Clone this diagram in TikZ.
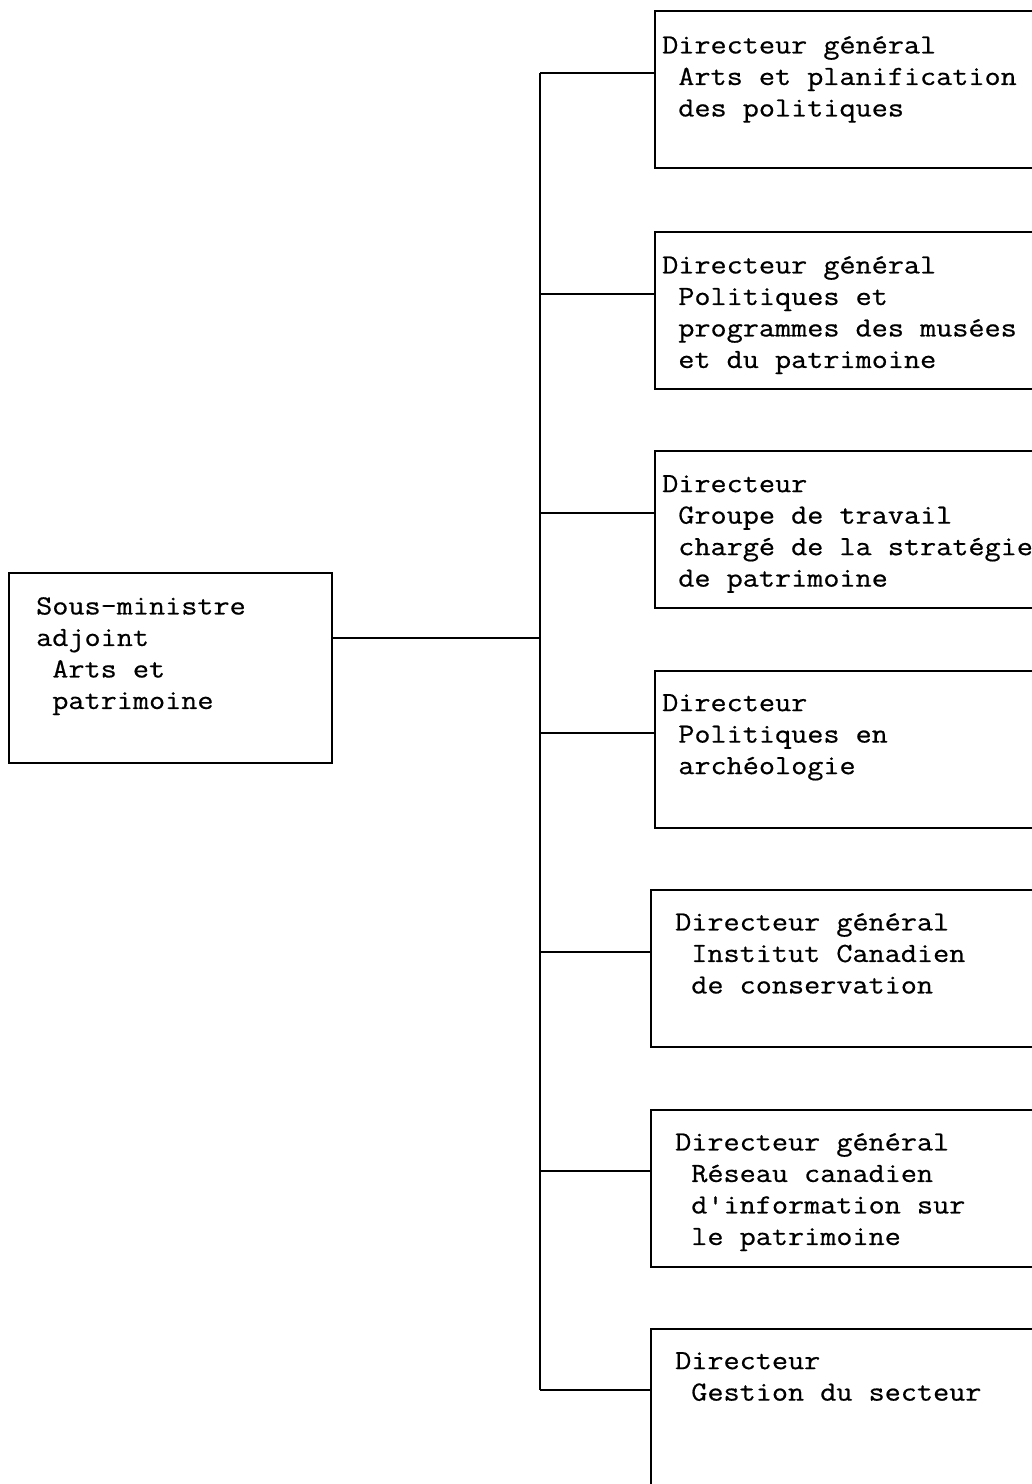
\documentclass[tikz,border=0pt]{standalone}
\usepackage{fontspec}
\newfontfamily\typew[Ligatures=TeXOff,FakeStretch=1.13,FakeBold=0.6]{Latin Modern Mono}
\usetikzlibrary{calc}
\newcommand\onechar{\hphantom{x}}
\tikzset{
  frame/.style={draw, line width=1.6pt, rectangle, anchor=north west,
    inner sep=0pt, minimum width=420pt, minimum height=157pt},
  label/.style={anchor=north west, inner sep=0pt, align=left,
    font=\typew\fontsize{27.7}{31.5}\selectfont,
    execute at begin node={\rule{0pt}{24pt}}},
  link/.style={line width=1.6pt}
}
\begin{document}
\begin{tikzpicture}[x=1pt,y=-1pt]
\useasboundingbox (0,0) rectangle (1032,1484);
\clip (0,0) rectangle (1032,1484);

% head of the branch
\node[frame, minimum width=323pt, minimum height=190pt] (lb) at (8,572) {};
\node[label] (lbt) at ($(lb.north west)+(28,25)$)
  {Sous-ministre\\adjoint\\\onechar Arts et\\\onechar patrimoine};

% reporting units
\node[frame] (b1) at (654,10) {};
\node[frame] (b2) at (654,231) {};
\node[frame] (b3) at (654,450) {};
\node[frame] (b4) at (654,670) {};
\node[frame] (b5) at (650,889) {};
\node[frame] (b6) at (650,1109) {};
\node[frame] (b7) at (650,1328) {};

\node[label] (b1t) at ($(b1.north west)+(8,26)$)
  {Directeur général\\\onechar Arts et planification\\\onechar des politiques};
\node[label] (b2t) at ($(b2.north west)+(8,25)$)
  {Directeur général\\\onechar Politiques et\\\onechar programmes des musées\\\onechar et du patrimoine};
\node[label] (b3t) at ($(b3.north west)+(8,25)$)
  {Directeur\\\onechar Groupe de travail\\\onechar chargé de la stratégie\\\onechar de patrimoine};
\node[label] (b4t) at ($(b4.north west)+(8,24)$)
  {Directeur\\\onechar Politiques en\\\onechar archéologie};
\node[label] (b5t) at ($(b5.north west)+(25,24)$)
  {Directeur général\\\onechar Institut Canadien\\\onechar de conservation};
\node[label] (b6t) at ($(b6.north west)+(25,24)$)
  {Directeur général\\\onechar Réseau canadien\\\onechar d'information sur\\\onechar le patrimoine};
\node[label] (b7t) at ($(b7.north west)+(25,24)$)
  {Directeur\\\onechar Gestion du secteur};

% junctions on the vertical trunk
\coordinate (t0) at (540,638);
\coordinate (t1) at (540,73);
\coordinate (t2) at (540,294);
\coordinate (t3) at (540,513);
\coordinate (t4) at (540,733);
\coordinate (t5) at (540,952);
\coordinate (t6) at (540,1171);
\coordinate (t7) at (540,1390);

\draw[link] (t1) -- (t7);
\draw[link] (t0 -| lb.east) -- (t0);
\foreach \i in {1,...,7}
  \draw[link] (t\i) -- (t\i -| b\i.west);
\end{tikzpicture}
\end{document}
